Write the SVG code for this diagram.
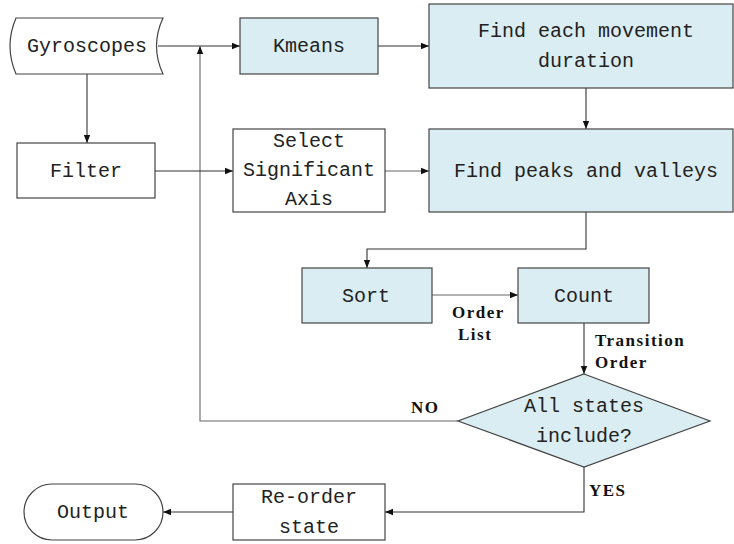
<svg xmlns="http://www.w3.org/2000/svg" width="734" height="544" viewBox="0 0 734 544">
<defs>
<style>
.box{fill:#fff;stroke:#444;stroke-width:1.2}
.blue{fill:#DAEDF3;stroke:#444;stroke-width:1.2}
.t{font-family:"Liberation Mono",monospace;font-size:20px;fill:#222;text-anchor:middle;dominant-baseline:central}
.lb{font-family:"Liberation Serif",serif;font-size:17px;font-weight:bold;letter-spacing:1.5px;fill:#111;text-anchor:start;dominant-baseline:central}
.c{fill:none;stroke:#333;stroke-width:1.1}
.g{fill:none;stroke:#666;stroke-width:1.1}
</style>
<marker id="a" viewBox="0 0 10 10" refX="10" refY="5" markerWidth="8" markerHeight="8" markerUnits="userSpaceOnUse" orient="auto">
<path d="M0,1 L10,5 L0,9 Z" fill="#111"/>
</marker>
</defs>
<g id="connectors">
<path class="c" d="M158,46 H240" marker-end="url(#a)"/>
<path class="g" d="M458,421 H200 V46" marker-end="url(#a)"/>
<path class="c" d="M87,74 V143" marker-end="url(#a)"/>
<path class="c" d="M378,46 H429" marker-end="url(#a)"/>
<path class="c" d="M155,171 H233" marker-end="url(#a)"/>
<path class="g" d="M385,171 H429" marker-end="url(#a)"/>
<path class="c" d="M586,88 V129" marker-end="url(#a)"/>
<path class="c" d="M586,212 V249 H367 V268" marker-end="url(#a)"/>
<path class="g" d="M432,295 H518" marker-end="url(#a)"/>
<path class="c" d="M584,323 V374" marker-end="url(#a)"/>
<path class="c" d="M584,467 V512 H385" marker-end="url(#a)"/>
<path class="c" d="M233,512 H163" marker-end="url(#a)"/>
<text class="lb" x="452" y="312">Order</text>
<text class="lb" x="458" y="334">List</text>
<text class="lb" x="595" y="340">Transition</text>
<text class="lb" x="595" y="362">Order</text>
<text class="lb" x="411" y="407">NO</text>
<text class="lb" x="589" y="490">YES</text>
</g>
<g id="gyroscopes">
<path class="box" d="M16,18 L163,18 Q150,46 163,74 L16,74 Q4,46 16,18 Z"/>
<text class="t" x="87" y="46">Gyroscopes</text>
</g>
<g id="filter">
<rect class="box" x="17" y="143" width="138" height="55"/>
<text class="t" x="86" y="171">Filter</text>
</g>
<g id="kmeans">
<rect class="blue" x="240" y="18" width="138" height="56"/>
<text class="t" x="309" y="46">Kmeans</text>
</g>
<g id="find-duration">
<rect class="blue" x="429" y="4" width="304" height="84"/>
<text class="t" x="586" y="31">Find each movement</text>
<text class="t" x="586" y="61">duration</text>
</g>
<g id="select-axis">
<rect class="box" x="233" y="129" width="152" height="83"/>
<text class="t" x="309" y="141">Select</text>
<text class="t" x="309" y="170">Significant</text>
<text class="t" x="309" y="199">Axis</text>
</g>
<g id="find-peaks">
<rect class="blue" x="429" y="129" width="304" height="83"/>
<text class="t" x="586" y="171">Find peaks and valleys</text>
</g>
<g id="sort">
<rect class="blue" x="302" y="268" width="130" height="55"/>
<text class="t" x="366" y="296">Sort</text>
</g>
<g id="count">
<rect class="blue" x="518" y="268" width="131" height="55"/>
<text class="t" x="584" y="296">Count</text>
</g>
<g id="decision">
<path class="blue" d="M584,374 L710,421 L584,467 L458,421 Z"/>
<text class="t" x="584" y="406">All states</text>
<text class="t" x="584" y="436">include?</text>
</g>
<g id="reorder">
<rect class="box" x="233" y="484" width="152" height="56"/>
<text class="t" x="309" y="497">Re-order</text>
<text class="t" x="309" y="527">state</text>
</g>
<g id="output">
<rect class="box" x="24" y="484" width="139" height="56" rx="28" ry="28"/>
<text class="t" x="93" y="512">Output</text>
</g>
</svg>
